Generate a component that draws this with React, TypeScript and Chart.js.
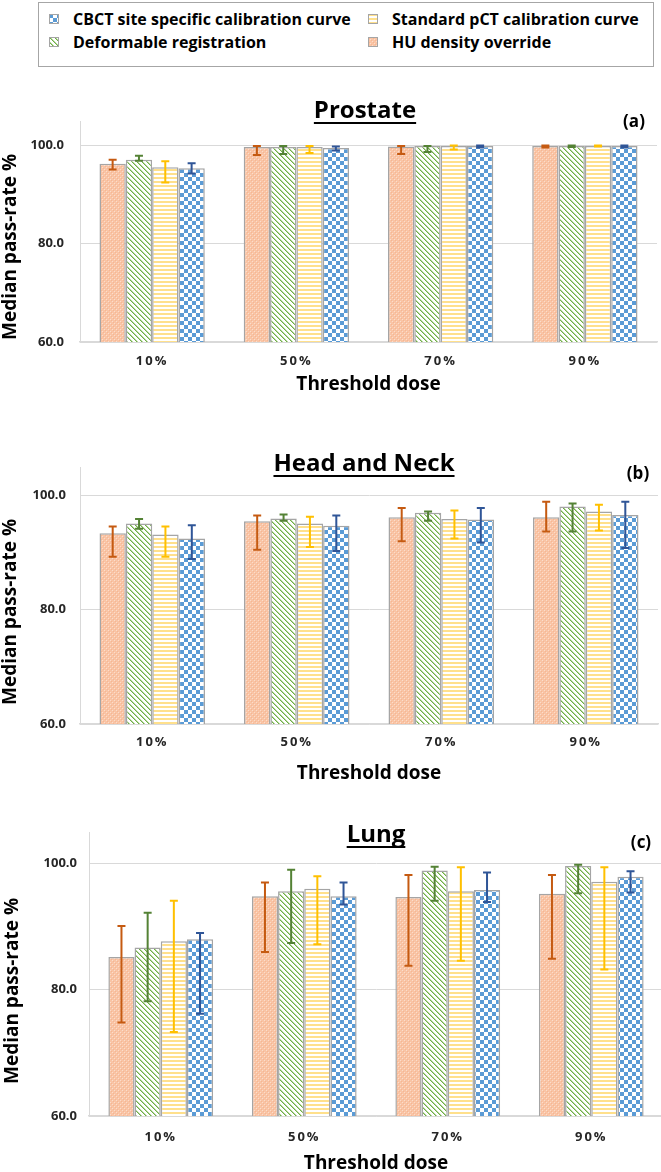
import React, { useEffect, useRef } from 'react';
import { Chart, registerables } from 'chart.js';

Chart.register(...registerables);

const FONT = '"Open Sans", "DejaVu Sans", sans-serif';

// ---------- data ----------
const categories = ['10%', '50%', '70%', '90%'];
const seriesNames = [
  'HU density override',
  'Deformable registration',
  'Standard pCT calibration curve',
  'CBCT site specific calibration curve',
];
const yTickValues = [60, 80, 100];
const xAxisTitle = 'Threshold dose';
const yAxisTitle = 'Median pass-rate %';

// Prostate (a)
const prostateHU = [96.3, 99.7, 99.8, 99.9];
const prostateHUErr = [[95.1, 97.1], [98.1, 99.9], [98.3, 99.9], [99.6, 100]];
const prostateDIR = [97.1, 99.7, 99.9, 99.9];
const prostateDIRErr = [[96.9, 97.9], [98.3, 99.9], [98.7, 99.9], [99.7, 100]];
const prostatePCT = [95.6, 99.7, 99.9, 99.9];
const prostatePCTErr = [[92.5, 96.8], [98.5, 99.9], [99.2, 100], [99.8, 100]];
const prostateCBCT = [95.4, 99.5, 99.9, 99.9];
const prostateCBCTErr = [[94.3, 96.4], [99.0, 99.8], [99.6, 100], [99.6, 100]];

// Head and Neck (b)
const headNeckHU = [93.4, 95.5, 96.2, 96.2];
const headNeckHUErr = [[89.3, 94.6], [90.5, 96.5], [92.0, 97.8], [93.7, 98.9]];
const headNeckDIR = [95.1, 96.0, 97.0, 98.1];
const headNeckDIRErr = [[94.2, 95.9], [95.6, 96.7], [95.6, 97.2], [93.7, 98.6]];
const headNeckPCT = [93.2, 95.1, 95.9, 97.2];
const headNeckPCTErr = [[89.3, 94.6], [91.0, 96.3], [92.5, 97.4], [93.9, 98.4]];
const headNeckCBCT = [92.5, 94.7, 95.8, 96.6];
const headNeckCBCTErr = [[88.9, 94.8], [90.3, 96.5], [91.8, 97.8], [90.8, 98.9]];

// Lung (c)
const lungHU = [85.2, 94.8, 94.7, 95.2];
const lungHUErr = [[74.8, 90.1], [86.0, 97.0], [83.8, 98.2], [84.9, 98.2]];
const lungDIR = [86.7, 95.6, 98.9, 99.6];
const lungDIRErr = [[78.2, 92.2], [87.4, 99.0], [94.1, 99.5], [95.3, 99.8]];
const lungPCT = [87.7, 96.0, 95.6, 97.1];
const lungPCTErr = [[73.3, 94.1], [87.2, 98.0], [84.6, 99.4], [83.2, 99.4]];
const lungCBCT = [88.0, 94.8, 95.8, 97.9];
const lungCBCTErr = [[76.2, 89.0], [93.5, 97.0], [93.9, 98.6], [95.4, 98.8]];

// ---------- styles ----------
const patternKinds = ['hu', 'dir', 'pct', 'cbct'];
const errColors = ['#C55A11', '#548235', '#FFC000', '#2F5597'];
const barBorder = '#A5A5A5';
const gridColor = '#D9D9D9';

function makePattern(kind: string): CanvasPattern | string {
  const c = document.createElement('canvas');
  let ctx: CanvasRenderingContext2D | null = null;
  if (kind === 'hu') {
    c.width = 4; c.height = 4;
    ctx = c.getContext('2d')!;
    ctx.fillStyle = '#F9C4A5'; ctx.fillRect(0, 0, 4, 4);
    ctx.fillStyle = '#FCDDCB'; ctx.fillRect(0, 0, 1, 1); ctx.fillRect(2, 2, 1, 1);
    ctx.fillStyle = '#F6B692'; ctx.fillRect(1, 1, 1, 1); ctx.fillRect(3, 3, 1, 1);
  } else if (kind === 'dir') {
    c.width = 5; c.height = 5;
    ctx = c.getContext('2d')!;
    ctx.fillStyle = '#FFFFFF'; ctx.fillRect(0, 0, 5, 5);
    for (let i = 0; i < 5; i++) {
      ctx.fillStyle = '#70AD47'; ctx.fillRect(i, i, 1, 1);
      ctx.fillStyle = '#B5D89C'; ctx.fillRect((i + 1) % 5, i, 1, 1);
    }
  } else if (kind === 'pct') {
    c.width = 2; c.height = 4;
    ctx = c.getContext('2d')!;
    ctx.fillStyle = '#FFFFFF'; ctx.fillRect(0, 0, 2, 4);
    ctx.fillStyle = '#FFE08C'; ctx.fillRect(0, 0, 2, 2);
  } else {
    c.width = 8; c.height = 8;
    ctx = c.getContext('2d')!;
    ctx.fillStyle = '#FFFFFF'; ctx.fillRect(0, 0, 8, 8);
    ctx.fillStyle = '#5B9BD5'; ctx.fillRect(0, 0, 4, 4); ctx.fillRect(4, 4, 4, 4);
  }
  const p = ctx.createPattern(c, 'repeat');
  return p || '#ccc';
}

// ---------- plugins ----------
const errorBarPlugin = {
  id: 'errorBars',
  afterDatasetsDraw(chart: any) {
    const ctx = chart.ctx;
    const yScale = chart.scales.y;
    chart.data.datasets.forEach((ds: any, i: number) => {
      const meta = chart.getDatasetMeta(i);
      ctx.save();
      ctx.strokeStyle = ds.errorColor;
      ctx.lineWidth = 2;
      meta.data.forEach((bar: any, j: number) => {
        const [lo, hi] = ds.errorBars[j];
        const x = bar.x;
        const yl = yScale.getPixelForValue(lo);
        const yh = yScale.getPixelForValue(hi);
        ctx.beginPath();
        ctx.moveTo(x, yl); ctx.lineTo(x, yh);
        ctx.moveTo(x - 4, yl); ctx.lineTo(x + 4, yl);
        ctx.moveTo(x - 4, yh); ctx.lineTo(x + 4, yh);
        ctx.stroke();
      });
      ctx.restore();
    });
  },
};

const decorPlugin = {
  id: 'decor',
  afterLayout(chart: any) {
    const sx = chart.scales.x;
    if (sx && !sx.__spaced) {
      const orig = sx.drawLabels.bind(sx);
      sx.drawLabels = (area: any) => {
        const ctx = chart.ctx;
        ctx.save();
        (ctx as any).letterSpacing = '2px';
        orig(area);
        ctx.restore();
      };
      sx.__spaced = true;
    }
  },
  afterDraw(chart: any, _args: any, opts: any) {
    const ctx = chart.ctx;
    ctx.save();
    ctx.fillStyle = '#000000';
    ctx.textAlign = 'center';
    ctx.textBaseline = 'alphabetic';
    ctx.font = `bold ${opts.titleSize}px ${FONT}`;
    ctx.fillText(opts.title, opts.titleX, opts.titleBaseline);
    const w = ctx.measureText(opts.title).width;
    ctx.fillRect(opts.titleX - w / 2, opts.underlineY, w, 2);
    ctx.font = `bold 17px ${FONT}`;
    ctx.textBaseline = 'middle';
    ctx.fillText(opts.tag, opts.tagX, opts.tagY);
    ctx.translate(opts.yTitleX, opts.yTitleY);
    ctx.rotate(-Math.PI / 2);
    ctx.font = `bold 19px ${FONT}`;
    ctx.fillText(yAxisTitle, 0, 0);
    ctx.restore();
  },
};

// ---------- panels ----------
type PanelCfg = {
  top: number; width: number; height: number;
  yAxisW: number; padTop: number; padRight: number; xAxisH: number;
  xTickPad: number; yTickPad: number;
  title: string; titleX: number; titleBaseline: number; underlineY: number;
  tag: string; tagX: number; tagY: number; yTitleX: number; yTitleY: number;
  values: number[][]; errs: number[][][];
};

const panels: PanelCfg[] = [
  {
    top: 85, width: 661, height: 311, yAxisW: 80, padTop: 36, padRight: 4, xAxisH: 54,
    xTickPad: 11, yTickPad: 16,
    title: 'Prostate', titleX: 365, titleBaseline: 33, underlineY: 37,
    tag: '(a)', tagX: 634, tagY: 37, yTitleX: 11, yTitleY: 162,
    values: [prostateHU, prostateDIR, prostatePCT, prostateCBCT],
    errs: [prostateHUErr, prostateDIRErr, prostatePCTErr, prostateCBCTErr],
  },
  {
    top: 430, width: 661, height: 355, yAxisW: 80, padTop: 37, padRight: 3, xAxisH: 61,
    xTickPad: 10, yTickPad: 14,
    title: 'Head and Neck', titleX: 364, titleBaseline: 40.5, underlineY: 45,
    tag: '(b)', tagX: 638, tagY: 44, yTitleX: 11, yTitleY: 182,
    values: [headNeckHU, headNeckDIR, headNeckPCT, headNeckCBCT],
    errs: [headNeckHUErr, headNeckDIRErr, headNeckPCTErr, headNeckCBCTErr],
  },
  {
    top: 800, width: 665, height: 375, yAxisW: 89, padTop: 32, padRight: 2, xAxisH: 59,
    xTickPad: 13, yTickPad: 12,
    title: 'Lung', titleX: 376, titleBaseline: 41.5, underlineY: 46,
    tag: '(c)', tagX: 641, tagY: 43.5, yTitleX: 13, yTitleY: 191,
    values: [lungHU, lungDIR, lungPCT, lungCBCT],
    errs: [lungHUErr, lungDIRErr, lungPCTErr, lungCBCTErr],
  },
];

function Panel({ cfg }: { cfg: PanelCfg }) {
  const ref = useRef<HTMLCanvasElement>(null);
  useEffect(() => {
    if (!ref.current) return;
    const chart = new Chart(ref.current, {
      type: 'bar',
      data: {
        labels: categories,
        datasets: seriesNames.map((name, i) => ({
          label: name,
          data: cfg.values[i],
          backgroundColor: makePattern(patternKinds[i]) as any,
          borderColor: barBorder,
          borderWidth: 1.5,
          categoryPercentage: 0.73,
          barPercentage: 1,
          errorBars: cfg.errs[i],
          errorColor: errColors[i],
        })) as any,
      },
      options: {
        animation: false,
        responsive: false,
        events: [],
        layout: { padding: { top: cfg.padTop, right: cfg.padRight, left: 0, bottom: 0 } },
        plugins: {
          legend: { display: false },
          tooltip: { enabled: false },
          decor: {
            title: cfg.title, titleSize: 24, titleX: cfg.titleX, titleBaseline: cfg.titleBaseline,
            underlineY: cfg.underlineY, tag: cfg.tag, tagX: cfg.tagX, tagY: cfg.tagY,
            yTitleX: cfg.yTitleX, yTitleY: cfg.yTitleY,
          },
        } as any,
        scales: {
          x: {
            grid: { display: true, drawOnChartArea: false, drawTicks: false },
            border: { display: true, color: gridColor, width: 1.5 },
            ticks: {
              font: { family: FONT, size: 13, weight: 'bold' },
              color: '#262626',
              padding: cfg.xTickPad,
            },
            title: {
              display: true, text: xAxisTitle, color: '#000000',
              font: { family: FONT, size: 19, weight: 'bold', lineHeight: 1.2 },
              padding: 0,
            },
            afterFit: (s: any) => { s.height = cfg.xAxisH; },
          },
          y: {
            min: 60,
            max: 105,
            afterBuildTicks: (s: any) => {
              s.ticks = yTickValues.map((v) => ({ value: v }));
            },
            ticks: {
              callback: (v: any) => Number(v).toFixed(1),
              font: { family: FONT, size: 13, weight: 'bold' },
              color: '#262626',
              padding: cfg.yTickPad,
            },
            grid: { color: gridColor, lineWidth: 1, drawTicks: false },
            border: { display: true, color: gridColor, width: 1 },
            afterFit: (s: any) => { s.width = cfg.yAxisW; },
          },
        },
      } as any,
      plugins: [errorBarPlugin, decorPlugin],
    });
    return () => chart.destroy();
  }, []);
  return (
    <div style={{ position: 'absolute', left: 0, top: cfg.top, width: cfg.width, height: cfg.height }}>
      <canvas ref={ref} width={cfg.width} height={cfg.height} style={{ display: 'block' }} />
    </div>
  );
}

function Swatch({ kind, left, top }: { kind: string; left: number; top: number }) {
  const ref = useRef<HTMLCanvasElement>(null);
  useEffect(() => {
    const c = ref.current;
    if (!c) return;
    const ctx = c.getContext('2d')!;
    ctx.fillStyle = makePattern(kind) as any;
    ctx.fillRect(0, 0, 10, 10);
    ctx.strokeStyle = barBorder;
    ctx.lineWidth = 1;
    ctx.strokeRect(0.5, 0.5, 9, 9);
  }, []);
  return <canvas ref={ref} width={10} height={10} style={{ position: 'absolute', left, top }} />;
}

// legend order (row-major): CBCT, pCT / DIR, HU
const legendOrder = [3, 2, 1, 0];

function Legend() {
  const cols = [10, 329];
  const textCols = [34, 353];
  const rows = [16, 39];
  return (
    <div
      style={{
        position: 'absolute', left: 38, top: 2, width: 614, height: 63,
        border: '1px solid #A6A6A6', background: '#fff',
      }}
    >
      {legendOrder.map((si, k) => {
        const col = k % 2;
        const row = Math.floor(k / 2);
        return (
          <React.Fragment key={si}>
            <Swatch kind={patternKinds[si]} left={cols[col]} top={rows[row] - 5} />
            <div
              style={{
                position: 'absolute', left: textCols[col], top: rows[row] - 11, height: 22,
                lineHeight: '22px', fontFamily: FONT, fontWeight: 700, fontSize: 16,
                color: '#000', whiteSpace: 'nowrap',
              }}
            >
              {seriesNames[si]}
            </div>
          </React.Fragment>
        );
      })}
    </div>
  );
}

export default function App() {
  return (
    <div
      style={{
        position: 'absolute', left: 0, top: 0, width: 661, height: 1172,
        overflow: 'hidden', background: '#ffffff',
      }}
    >
      <Legend />
      {panels.map((p, i) => (
        <Panel key={i} cfg={p} />
      ))}
    </div>
  );
}
